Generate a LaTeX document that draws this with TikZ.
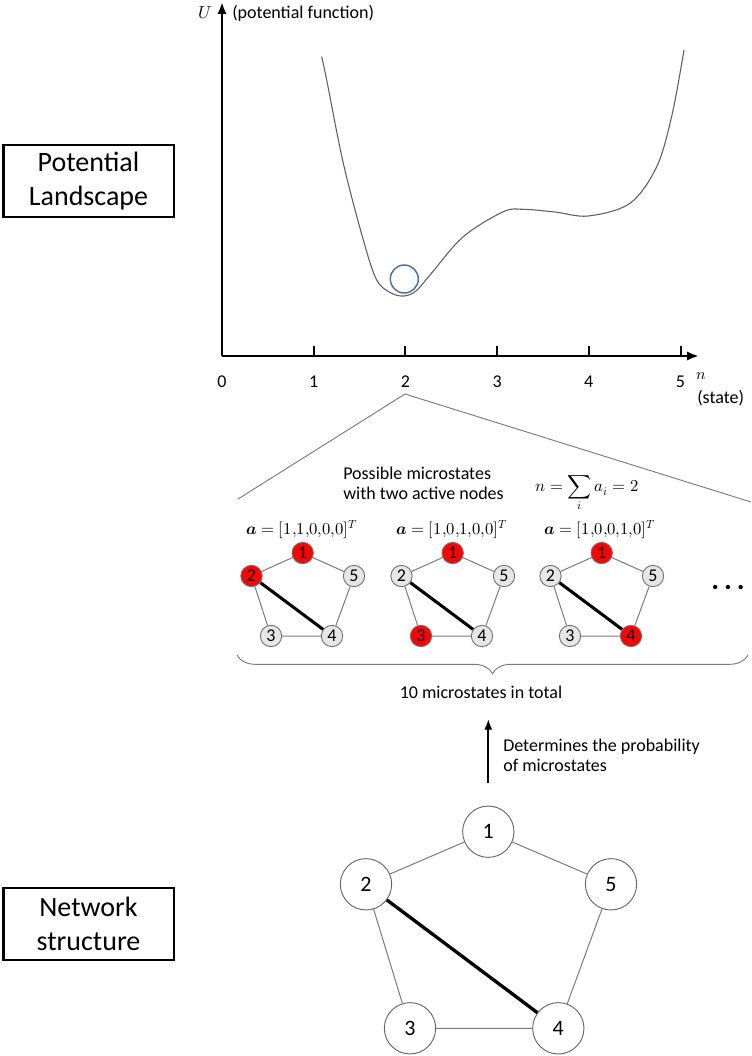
\documentclass[tikz,border=0pt]{standalone}
\usepackage{fontspec}
\usepackage{unicode-math}
\setmainfont{Carlito}
\setmathfont{Latin Modern Math}
\usepackage{tikz}
\usetikzlibrary{arrows.meta,decorations.pathreplacing}
\definecolor{edgegray}{HTML}{7A7A7A}
\definecolor{nodegray}{HTML}{E6E6E6}
\definecolor{ballblue}{HTML}{4A6EA8}
\definecolor{curvegray}{HTML}{5E5E5E}
\tikzset{
  axisarr/.style   = {-{Latex[length=9pt,width=7pt]},line width=1.8pt},
  probarr/.style   = {-{Latex[length=8pt,width=6pt]},line width=1.4pt},
  tagbox/.style    = {draw,line width=2pt,align=center,minimum width=128pt,
                      minimum height=54pt,font=\fontsize{21}{25}\selectfont},
  ticklab/.style   = {font=\fontsize{13.5}{15}\selectfont},
  smalltxt/.style  = {font=\fontsize{13.5}{15}\selectfont,align=left,inner sep=0pt},
  netnode/.style   = {circle,draw=black!60,fill=white,line width=0.7pt,
                      minimum size=38.5pt,inner sep=0pt,font=\fontsize{16.5}{18}\selectfont},
  greystate/.style = {circle,draw=black!55,fill=nodegray,line width=0.7pt,
                      minimum size=16pt,inner sep=0pt,font=\fontsize{13.5}{14}\selectfont},
  redstate/.style  = {greystate,fill=red},
  netedge/.style   = {edgegray,line width=0.75pt},
  keyedge/.style   = {black,line width=2.3pt}
}
% one small copy of the network, #1 name prefix, #2 centre x, #3-#7 node styles
\newcommand{\microstate}[7]{%
  \node[#3] (#1-1) at (#2+0.7,553) {1};
  \node[#4] (#1-2) at (#2-50.5,576) {2};
  \node[#5] (#1-3) at (#2-31,636) {3};
  \node[#6] (#1-4) at (#2+30,636) {4};
  \node[#7] (#1-5) at (#2+52,576) {5};
  \draw[netedge] (#1-1) -- (#1-2) -- (#1-3) -- (#1-4) -- (#1-5) -- (#1-1);
  \draw[keyedge] (#1-2) -- (#1-4);
}

\begin{document}
\begin{tikzpicture}[x=0.75pt,y=-0.75pt]
  \useasboundingbox (0,0) rectangle (751,1056);

  % labels on the left
  \node[tagbox] (landbox) at (88.5,181) {Potential\\Landscape};
  \node[tagbox] (netbox)  at (88.5,924) {Network\\structure};

  % axes of the landscape
  \coordinate (O) at (222,356);
  \coordinate (ytip) at (222,2);
  \coordinate (xtip) at (699,356);
  \draw[axisarr] (O) -- (ytip);
  \draw[axisarr] (O) -- (xtip);
  \foreach \i in {1,...,5}
    \draw[line width=1.5pt] (222+91.7*\i,356) -- ++(0,-10);
  \foreach \i in {0,...,5}
    \node[ticklab] (t\i) at (222+91.7*\i,382) {\i};
  \node[font=\fontsize{13}{14}\selectfont] (ulab) at (205,13) {$U$};
  \node[smalltxt,anchor=west] (ufun) at (232,13) {(potential function)};
  \node[font=\fontsize{12}{14}\selectfont] (nlab) at (701,376) {$n$};
  \node[smalltxt,anchor=west] (nstate) at (697,398) {(state)};

  % the potential curve and the ball in its well
  \draw[curvegray,line width=0.8pt] plot[smooth,tension=0.55] coordinates {
    (321.7,56.7) (326.7,80) (343.3,163.3) (363.3,240) (376.7,280) (391,293)
    (404,296) (416,291) (430,275) (463.3,236.7) (503.3,211.7) (523.3,209.3)
    (555,212) (588.3,216) (630,203.3) (656.7,166.7) (672,115) (684,50)};
  \draw[ballblue,line width=1.1pt] (404.3,279) circle (14);

  % zoom from n=2 down to the microstates
  \coordinate (apex) at (405,394);
  \coordinate (zl) at (238,499);
  \coordinate (zr) at (751,502);
  \draw[edgegray,line width=0.7pt] (zl) -- (apex) -- (zr);

  \node[smalltxt,anchor=west] (poss) at (343,483) {Possible microstates\\with two active nodes};
  \node[inner sep=0pt,font=\fontsize{12.5}{15}\selectfont] (nsum) at (587,494)
    {$\displaystyle n=\sum_i a_i=2$};

  \node[font=\fontsize{12.5}{15}\selectfont] (va) at (302,530) {$\symbfit{a}=[1{,}1{,}0{,}0{,}0]^T$};
  \node[font=\fontsize{12.5}{15}\selectfont] (vb) at (452,530) {$\symbfit{a}=[1{,}0{,}1{,}0{,}0]^T$};
  \node[font=\fontsize{12.5}{15}\selectfont] (vc) at (600,530) {$\symbfit{a}=[1{,}0{,}0{,}1{,}0]^T$};

  \microstate{ma}{302}{redstate}{redstate}{greystate}{greystate}{greystate}
  \microstate{mb}{452}{redstate}{greystate}{redstate}{greystate}{greystate}
  \microstate{mc}{601}{redstate}{greystate}{greystate}{redstate}{greystate}
  \node[inner sep=0pt,font=\bfseries\fontsize{22}{22}\selectfont] (more) at (728,588) {.\,.\,.};

  \coordinate (bl) at (237,655);
  \coordinate (br) at (748,655);
  \draw[edgegray,line width=0.7pt,decorate,decoration={brace,mirror,amplitude=14pt}] (bl) -- (br);
  \node[smalltxt] (total) at (481,692) {10 microstates in total};

  % the network decides the weights
  \coordinate (pa) at (488.3,783);
  \coordinate (pb) at (488.3,719);
  \draw[probarr] (pa) -- (pb);
  \node[smalltxt,anchor=west] (prob) at (503,755) {Determines the probability\\of microstates};

  % network structure
  \node[netnode] (n1) at (488.3,831.7) {1};
  \node[netnode] (n2) at (366,884.3) {2};
  \node[netnode] (n3) at (410,1028.3) {3};
  \node[netnode] (n4) at (558.3,1028.3) {4};
  \node[netnode] (n5) at (611,884.3) {5};
  \draw[netedge] (n1) -- (n2) -- (n3) -- (n4) -- (n5) -- (n1);
  \draw[keyedge,line width=2.5pt] (n2) -- (n4);
\end{tikzpicture}
\end{document}
